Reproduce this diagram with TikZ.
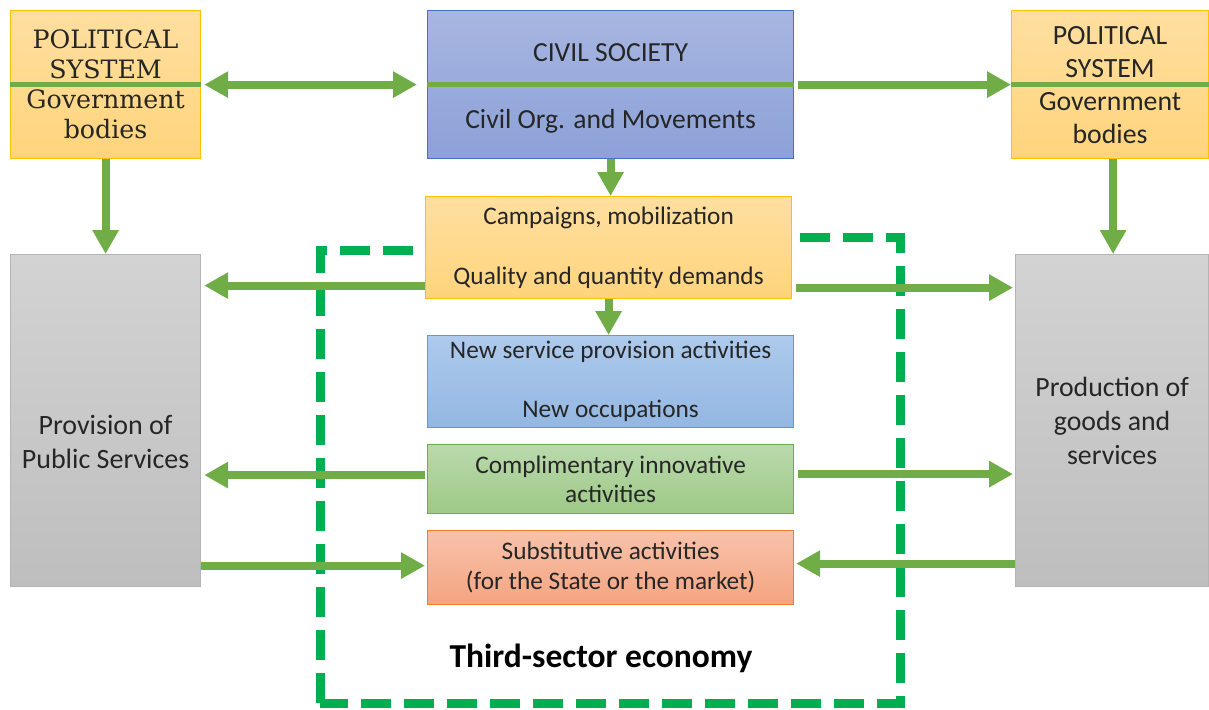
\documentclass[tikz,border=0pt]{standalone}
\usepackage{fontspec}
\setmainfont{Carlito}
\newfontfamily\polserif{DejaVu Serif}
\usetikzlibrary{arrows.meta}
\definecolor{arrgreen}{HTML}{70AD47}
\definecolor{dashgreen}{HTML}{00B050}
\definecolor{orTop}{HTML}{FFDFA0}
\definecolor{orBot}{HTML}{FFD47C}
\definecolor{orLine}{HTML}{FFC000}
\definecolor{blTop}{HTML}{A8B6E1}
\definecolor{blBot}{HTML}{8CA1D8}
\definecolor{blLine}{HTML}{4472C4}
\definecolor{lbTop}{HTML}{AECAEC}
\definecolor{lbBot}{HTML}{93B7E2}
\definecolor{lbLine}{HTML}{5B9BD5}
\definecolor{grTop}{HTML}{BAD9AD}
\definecolor{grBot}{HTML}{9DC986}
\definecolor{grLine}{HTML}{70AD47}
\definecolor{saTop}{HTML}{F8C2AB}
\definecolor{saBot}{HTML}{F4A480}
\definecolor{saLine}{HTML}{ED7D31}
\definecolor{gyTop}{HTML}{D3D3D3}
\definecolor{gyBot}{HTML}{BEBEBE}
\definecolor{gyLine}{HTML}{B4B4B4}
\definecolor{txt}{HTML}{262626}
\tikzset{
  box/.style={anchor=north west, inner sep=0pt, align=center, line width=1.2pt, text=txt},
  orbox/.style={box, draw=orLine, top color=orTop, bottom color=orBot},
  blbox/.style={box, draw=blLine, top color=blTop, bottom color=blBot},
  lbbox/.style={box, draw=lbLine, top color=lbTop, bottom color=lbBot},
  grbox/.style={box, draw=grLine, top color=grTop, bottom color=grBot},
  sabox/.style={box, draw=saLine, top color=saTop, bottom color=saBot},
  gybox/.style={box, draw=gyLine, top color=gyTop, bottom color=gyBot},
  arr/.style={draw=arrgreen, line width=8pt, -{Triangle[width=25pt,length=24pt]}},
  dbl/.style={draw=arrgreen, line width=8pt, {Triangle[width=25pt,length=24pt]}-{Triangle[width=25pt,length=24pt]}},
  divider/.style={draw=arrgreen, line width=5pt},
  dashbox/.style={draw=dashgreen, line width=9pt, dash pattern=on 30pt off 13pt},
}
\begin{document}
\begin{tikzpicture}[x=1pt,y=-1pt]
\useasboundingbox (0,0) rectangle (1209,709);
% third-sector frame
\draw[dashbox] (320,703) -- (320,250) -- (600,250) -- (600,237) -- (900,237) -- (900,703) -- cycle;
% boxes
\node[orbox, minimum width=190pt, minimum height=148pt,
  font=\polserif\fontsize{25.3}{30}\selectfont] (lpol) at (10,10)
  {POLITICAL\\SYSTEM\\Government\\bodies};
\node[blbox, minimum width=366pt, minimum height=148pt,
  font=\fontsize{27.6}{30}\selectfont] (civ) at (427,10)
  {\rule{0pt}{26pt}CIVIL SOCIETY\\[37pt]Civil Org. and Movements};
\node[orbox, minimum width=197pt, minimum height=148pt,
  font=\fontsize{27.8}{33}\selectfont] (rpol) at (1011,10)
  {POLITICAL\\SYSTEM\\Government\\bodies};
\node[orbox, minimum width=366pt, minimum height=102pt,
  font=\fontsize{25.3}{30}\selectfont] (camp) at (425,196)
  {Campaigns, mobilization\\[30pt]Quality and quantity demands};
\node[lbbox, minimum width=366pt, minimum height=92pt,
  font=\fontsize{25.3}{30}\selectfont] (nsvc) at (427,335)
  {New service provision activities\\[29pt]New occupations};
\node[grbox, minimum width=366pt, minimum height=69pt,
  font=\fontsize{25.3}{29}\selectfont] (comp) at (427,444)
  {Complimentary innovative\\activities};
\node[sabox, minimum width=366pt, minimum height=74pt,
  font=\fontsize{25.3}{30}\selectfont] (subs) at (427,530)
  {Substitutive activities\\(for the State or the market)};
\node[gybox, minimum width=190pt, minimum height=332pt,
  font=\fontsize{28}{34}\selectfont] (lgray) at (10,254)
  {\rule{0pt}{62pt}Provision of\\Public Services};
\node[gybox, minimum width=193pt, minimum height=332pt,
  font=\fontsize{27.8}{34}\selectfont] (rgray) at (1015,254)
  {Production of\\goods and\\services};
\node[font=\bfseries\fontsize{33.5}{38}\selectfont, text=black] (tse) at (601,658) {Third-sector economy};
% dividers
\draw[divider] (lpol.west) -- (lpol.east);
\draw[divider] (civ.west) -- (civ.east);
\draw[divider] (rpol.west) -- (rpol.east);
% connectors
\draw[dbl] ([xshift=3pt]lpol.east) -- ([xshift=-10pt]civ.west);
\draw[arr] ([xshift=4pt]civ.east) -- (rpol.west);
\draw[arr] (lpol.south) -- (lpol.south |- lgray.north);
\draw[arr] ([xshift=3pt]rpol.south) -- ([xshift=3pt]rpol.south |- rgray.north);
\draw[arr] (civ.south) -- (civ.south |- camp.north);
\draw[arr] (camp.south) -- (camp.south |- nsvc.north);
\coordinate (c1) at ([yshift=-38pt]camp.west);
\draw[arr, shorten >=3pt] (c1) -- (c1 -| lgray.east);
\coordinate (c2) at ([yshift=-40pt,xshift=4pt]camp.east);
\draw[arr, shorten >=2pt] (c2) -- (c2 -| rgray.west);
\coordinate (c3) at ([yshift=4pt,xshift=-2pt]comp.west);
\draw[arr, shorten >=3pt] (c3) -- (c3 -| lgray.east);
\coordinate (c4) at ([yshift=5pt,xshift=4pt]comp.east);
\draw[arr, shorten >=2pt] (c4) -- (c4 -| rgray.west);
\coordinate (c5) at ([yshift=2pt]lgray.east |- subs.west);
\draw[arr, shorten >=2pt] (c5) -- (c5 -| subs.west);
\coordinate (c6) at ([yshift=4pt]rgray.west |- subs.east);
\draw[arr, shorten >=2pt] (c6) -- (c6 -| subs.east);
\end{tikzpicture}
\end{document}
